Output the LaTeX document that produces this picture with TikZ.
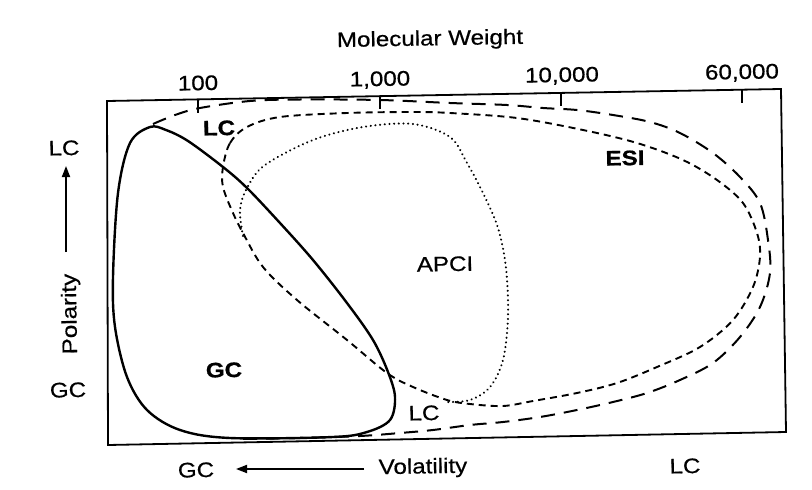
\documentclass[tikz,border=0pt]{standalone}
\usepackage{fontspec}
\setmainfont{Liberation Sans}[FakeStretch=1.15]
\newfontfamily\lblfont{Liberation Sans}[FakeStretch=1.15, FakeBold=0.6]
\newfontfamily\blblfont{Liberation Sans Bold}[FakeStretch=1.15, FakeBold=0.8]
\usetikzlibrary{arrows.meta}
\begin{document}
\begin{tikzpicture}[x=1pt,y=-1pt,
  lbl/.style={font=\fontsize{21}{23}\lblfont, inner sep=0pt, rotate=1},
  blbl/.style={font=\fontsize{21}{23}\blblfont, inner sep=0pt, rotate=1},
  framel/.style={line width=1.8pt},
  tickl/.style={line width=1.3pt},
  gcline/.style={line width=2.4pt},
  lcline/.style={line width=2pt, dash pattern=on 14pt off 9pt},
  esiline/.style={line width=1.9pt, dash pattern=on 7pt off 5pt},
  apciline/.style={line width=2.2pt, dash pattern=on 0.1pt off 4.6pt, line cap=round},
  arr/.style={line width=1.8pt, -{Triangle[length=11pt,width=8pt]}}
]
\useasboundingbox (0,0) rectangle (812,490);
\fill[white] (0,0) rectangle (812,490);

% frame
\coordinate (TL) at (107,101);
\coordinate (TR) at (781,89);
\coordinate (BR) at (786,432);
\coordinate (BL) at (108,445);
\draw[framel] (TL) -- (TR) -- (BR) -- (BL) -- cycle;

% ticks
\coordinate (t1a) at (198,99.4);  \coordinate (t1b) at (198,113);
\coordinate (t2a) at (380,96.1);  \coordinate (t2b) at (380,109);
\coordinate (t3a) at (561,92.9);  \coordinate (t3b) at (561,106);
\coordinate (t4a) at (742,89.7);  \coordinate (t4b) at (742,103);
\draw[tickl] (t1a) -- (t1b);
\draw[tickl] (t2a) -- (t2b);
\draw[tickl] (t3a) -- (t3b);
\draw[tickl] (t4a) -- (t4b);

% axis texts
\node[lbl] (mw) at (430,40) {Molecular Weight};
\node[lbl] (n100) at (198,83) {100};
\node[lbl] (n1k) at (380,80) {1,000};
\node[lbl] (n10k) at (562,76) {10,000};
\node[lbl] (n60k) at (742,73) {60,000};

\node[lbl] (lctop) at (64,148) {LC};
\node[lbl, rotate=90] (pol) at (71,314) {Polarity};
\node[lbl] (gcleft) at (68,390) {GC};
\coordinate (polA) at (66,252);
\coordinate (polB) at (66,166);
\draw[arr] (polA) -- (polB);

\node[lbl] (gcbot) at (196,470) {GC};
\node[lbl] (vol) at (423,468) {Volatility};
\node[lbl] (lcbot) at (685,466) {LC};
\coordinate (volA) at (364,469);
\coordinate (volB) at (236,469);
\draw[arr] (volA) -- (volB);

% regions
\draw[gcline] plot[smooth cycle, tension=0.55] coordinates {
 (150,127) (130,143) (118,193) (113,277) (115,327) (127,377) (147,410)
 (180,430) (230,438) (333,437) (367,432) (390,420) (395,397) (388,372)
 (373,340) (347,303) (313,260) (280,223) (247,188) (223,167) (188,141) (166,130)};

\draw[lcline] plot[smooth, tension=0.55] coordinates {
 (153,124) (175,115) (200,108) (250,101) (300,99.5) (380,100) (450,103)
 (507,105) (543,108) (577,110) (613,115) (650,122) (680,133) (713,153)
 (740,177) (760,203) (768,240) (770,273) (760,307) (740,337) (713,363)
 (680,380) (647,393) (613,402) (577,410) (540,417) (503,422) (470,425)
 (433,430) (400,433) (360,436) (300,438) (240,439)};

\draw[esiline] plot[smooth cycle, tension=0.55] coordinates {
 (223,167) (230,143) (247,127) (280,117) (347,113) (413,112) (450,113)
 (517,118) (583,130) (637,143) (683,160) (717,180) (743,203) (757,233)
 (760,257) (753,287) (733,320) (700,347) (657,367) (617,383) (577,393)
 (533,401) (503,406) (470,404) (447,400) (413,387) (387,373) (347,340)
 (297,300) (263,267) (243,233) (233,213) (223,187)};

\draw[apciline] plot[smooth, tension=0.55] coordinates {
 (243,236) (240,210) (247,188) (265,165) (313,140) (363,127) (413,124)
 (450,137) (467,163) (483,193) (498,228) (506,268) (508,317) (503,360)
 (490,387) (470,400) (445,402)};

% region labels
\node[blbl] (lcin) at (219,128) {LC};
\node[blbl] (esi) at (625,158) {ESI};
\node[lbl] (apci) at (445,264) {APCI};
\node[blbl] (gcin) at (224,370) {GC};
\node[lbl] (lcsmall) at (424,413) {LC};
\end{tikzpicture}
\end{document}
